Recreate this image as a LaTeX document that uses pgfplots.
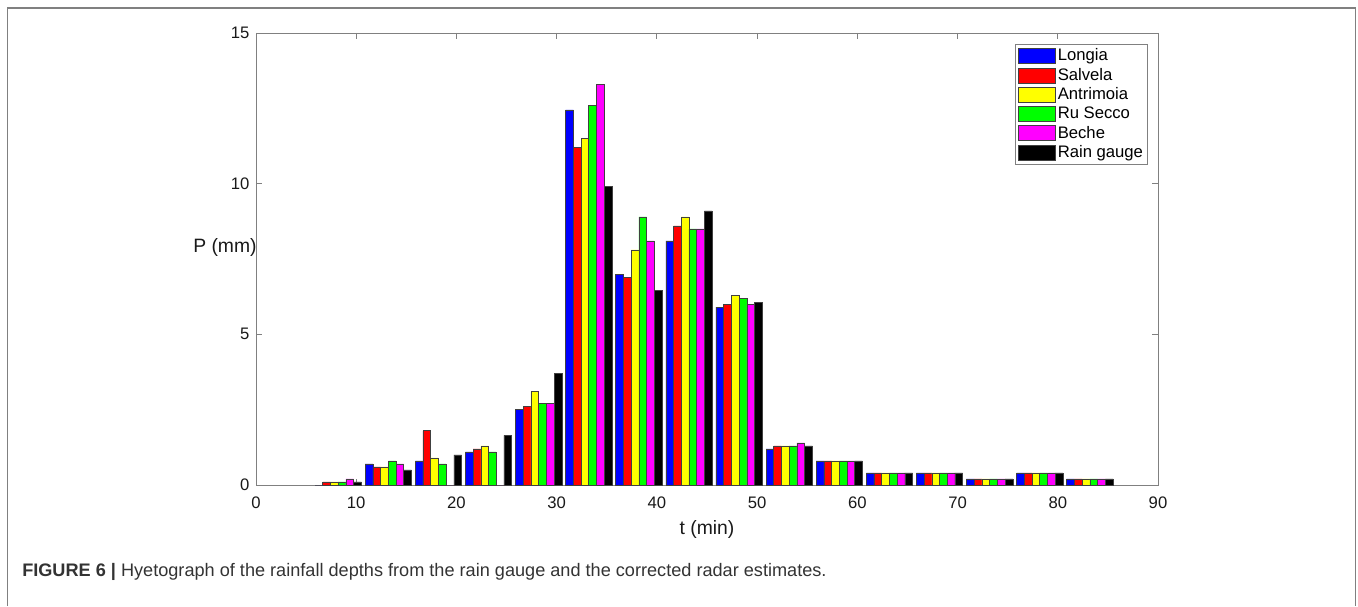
\documentclass[border=0pt]{standalone}
\usepackage{fontspec}
\setmainfont{Liberation Sans}
\usepackage{pgfplots}
\pgfplotsset{compat=1.18}
\usepackage{pgfplotstable}

\definecolor{cblue}{rgb}{0,0,1}
\definecolor{cred}{rgb}{1,0,0}
\definecolor{cyellow}{rgb}{1,1,0}
\definecolor{cgreen}{rgb}{0,1,0}
\definecolor{cmag}{rgb}{1,0,1}
\definecolor{cblack}{rgb}{0,0,0}
\definecolor{edge}{rgb}{0.25,0.25,0.25}
\definecolor{axgray}{rgb}{0.5,0.5,0.5}

\pgfplotstableread{
t    lon   sal   ant   rus   bec   rg
8.2  0     0.1   0.1   0.1   0.2   0.1
13.2 0.7   0.6   0.6   0.8   0.7   0.5
18.2 0.8   1.8   0.9   0.7   0     1.0
23.2 1.1   1.2   1.3   1.1   0     1.65
28.2 2.5   2.6   3.1   2.7   2.7   3.7
33.2 12.45 11.2  11.5  12.6  13.3  9.9
38.2 7.0   6.9   7.8   8.9   8.1   6.45
43.2 8.1   8.6   8.9   8.5   8.5   9.1
48.2 5.9   6.0   6.3   6.2   6.0   6.05
53.2 1.2   1.3   1.3   1.3   1.4   1.3
58.2 0.8   0.8   0.8   0.8   0.8   0.8
63.2 0.4   0.4   0.4   0.4   0.4   0.4
68.2 0.4   0.4   0.4   0.4   0.4   0.4
73.2 0.2   0.2   0.2   0.2   0.2   0.2
78.2 0.4   0.4   0.4   0.4   0.4   0.4
83.2 0.2   0.2   0.2   0.2   0.2   0.2
}\data

\pgfplotsset{
  sqlegend/.style={legend image code/.code={\draw[##1, draw=edge, line width=0.4pt] (0pt,-5.6pt) rectangle (27.75pt,5.6pt);}},
  mybar/.style={ybar, bar width=0.77, bar shift=0pt, draw=edge, line width=0.4pt, fill=#1, sqlegend}
}

\begin{document}
\begin{tikzpicture}
\useasboundingbox (0,0) rectangle (1018.5pt,-454.5pt);
\draw[axgray, line width=1.1pt] (5.625pt,-454.5pt) -- (5.625pt,-6pt) -- (1016.6pt,-6pt) -- (1016.6pt,-454.5pt);
\begin{axis}[
  scale only axis,
  width=676.5pt, height=339pt,
  at={(192pt,-363.75pt)}, anchor=south west,
  xmin=0, xmax=90, ymin=0, ymax=15,
  xtick={0,10,...,90}, ytick={0,5,10,15},
  tick align=inside, major tick length=4.5pt,
  axis line style={draw=axgray, line width=0.6pt},
  tick style={draw=axgray, line width=0.6pt},
  /pgf/number format/assume math mode=true,
  ticklabel style={font=\fontsize{12.5}{14}\selectfont, text=black!90},
  xticklabel style={yshift=-5.5pt},
  yticklabel style={xshift=-1.5pt},
  xlabel={t (min)},
  ylabel={P (mm)},
  label style={font=\fontsize{14.5}{16}\selectfont, text=black!90},
  ylabel style={rotate=-90, at={(axis description cs:0.001,0.525)}, anchor=east, inner sep=0pt},
  xlabel style={yshift=-1.5pt},
  legend style={at={(0.989,0.976)}, anchor=north east, draw=axgray, line width=0.6pt,
    font=\fontsize{12.5}{14}\selectfont, inner sep=1.5pt, row sep=0pt,
    cells={anchor=west}},
  legend cell align=left,
]
\addplot[mybar=cblue] table[x expr=\thisrow{t}-1.925, y=lon]{\data};
\addplot[mybar=cred] table[x expr=\thisrow{t}-1.155, y=sal]{\data};
\addplot[mybar=cyellow] table[x expr=\thisrow{t}-0.385, y=ant]{\data};
\addplot[mybar=cgreen] table[x expr=\thisrow{t}+0.385, y=rus]{\data};
\addplot[mybar=cmag] table[x expr=\thisrow{t}+1.155, y=bec]{\data};
\addplot[mybar=cblack] table[x expr=\thisrow{t}+1.925, y=rg]{\data};
\legend{Longia, Salvela, Antrimoia, Ru Secco, Beche, Rain gauge}
\end{axis}
\node[anchor=base west, inner sep=0pt, text=black!80] at (16.5pt,-432pt)
  {\fontsize{13.6}{15}\selectfont\textbf{FIGURE 6 |} Hyetograph of the rainfall depths from the rain gauge and the corrected radar estimates.};
\end{tikzpicture}
\end{document}
